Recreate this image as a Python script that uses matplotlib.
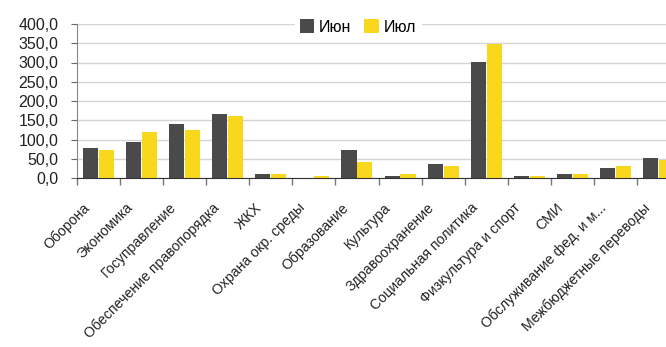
import numpy as np
import matplotlib
matplotlib.use('Agg')
import matplotlib.pyplot as plt
import matplotlib.transforms as mtransforms

plt.rcParams['font.family'] = ['Liberation Sans', 'DejaVu Sans']

categories = ['Оборона', 'Экономика', 'Госуправление', 'Обеспечение правопорядка',
              'ЖКХ', 'Охрана окр. среды', 'Образование', 'Культура',
              'Здравоохранение', 'Социальная политика', 'Физкультура и спорт',
              'СМИ', 'Обслуживание фед. и м...', 'Межбюджетные переводы']
jun = [78, 94, 141, 167, 11, 0, 73, 6, 37, 301, 6, 11, 27, 53]
jul = [73, 120, 125, 161, 11, 6, 42, 11, 32, 348, 6, 11, 32, 47]
yticks = [0, 50, 100, 150, 200, 250, 300, 350, 400]

dark = '#4a4a4a'
yellow = '#f9d71c'

fig = plt.figure(figsize=(6.66, 3.47), dpi=100)
ax = fig.add_axes([77 / 666, 169 / 347, 603 / 666, 154 / 347])

x = np.arange(len(categories))
w = 0.35
ax.bar(x - w / 2 - 0.01, jun, width=w, color=dark, label='Июн', zorder=3)
ax.bar(x + w / 2 + 0.01, jul, width=w, color=yellow, label='Июл', zorder=3)

ax.set_xlim(-0.5, len(categories) - 0.5)
ax.set_ylim(0, 400)
ax.set_yticks(yticks)
ax.set_yticklabels([f'{v:.1f}'.replace('.', ',') for v in yticks], fontsize=11.5)
ax.yaxis.grid(True, color='#d4d4d4', linewidth=1, zorder=0)
ax.tick_params(axis='y', length=4.5, color='#666666', pad=9, labelcolor='#222222')

# category boundary ticks
ax.set_xticks(np.arange(len(categories) + 1) - 0.5, minor=True)
ax.tick_params(axis='x', which='minor', length=5, color='#777777', width=1)
ax.set_xticks(x)
ax.set_xticklabels(categories, rotation=45, ha='right', va='center',
                   rotation_mode='anchor', fontsize=10.2, color='#222222')
ax.tick_params(axis='x', which='major', length=0, pad=14)
offset = mtransforms.ScaledTranslation(-11 / 100, -8 / 100, fig.dpi_scale_trans)
for lbl in ax.get_xticklabels():
    lbl.set_transform(lbl.get_transform() + offset)

for s in ['top', 'right']:
    ax.spines[s].set_visible(False)
ax.spines['left'].set_color('#888888')
ax.spines['bottom'].set_color('#333333')
ax.spines['bottom'].set_zorder(4)

leg = ax.legend(loc='center', bbox_to_anchor=(358 / 666, 1 - 27 / 347),
                bbox_transform=fig.transFigure, ncol=2, frameon=True,
                fontsize=11.5, handlelength=0.9, handleheight=0.9,
                handletextpad=0.3, columnspacing=0.8, borderpad=0.3,
                fancybox=False, edgecolor='white', framealpha=1)
leg.set_zorder(5)

fig.savefig('out.png', dpi=100)
